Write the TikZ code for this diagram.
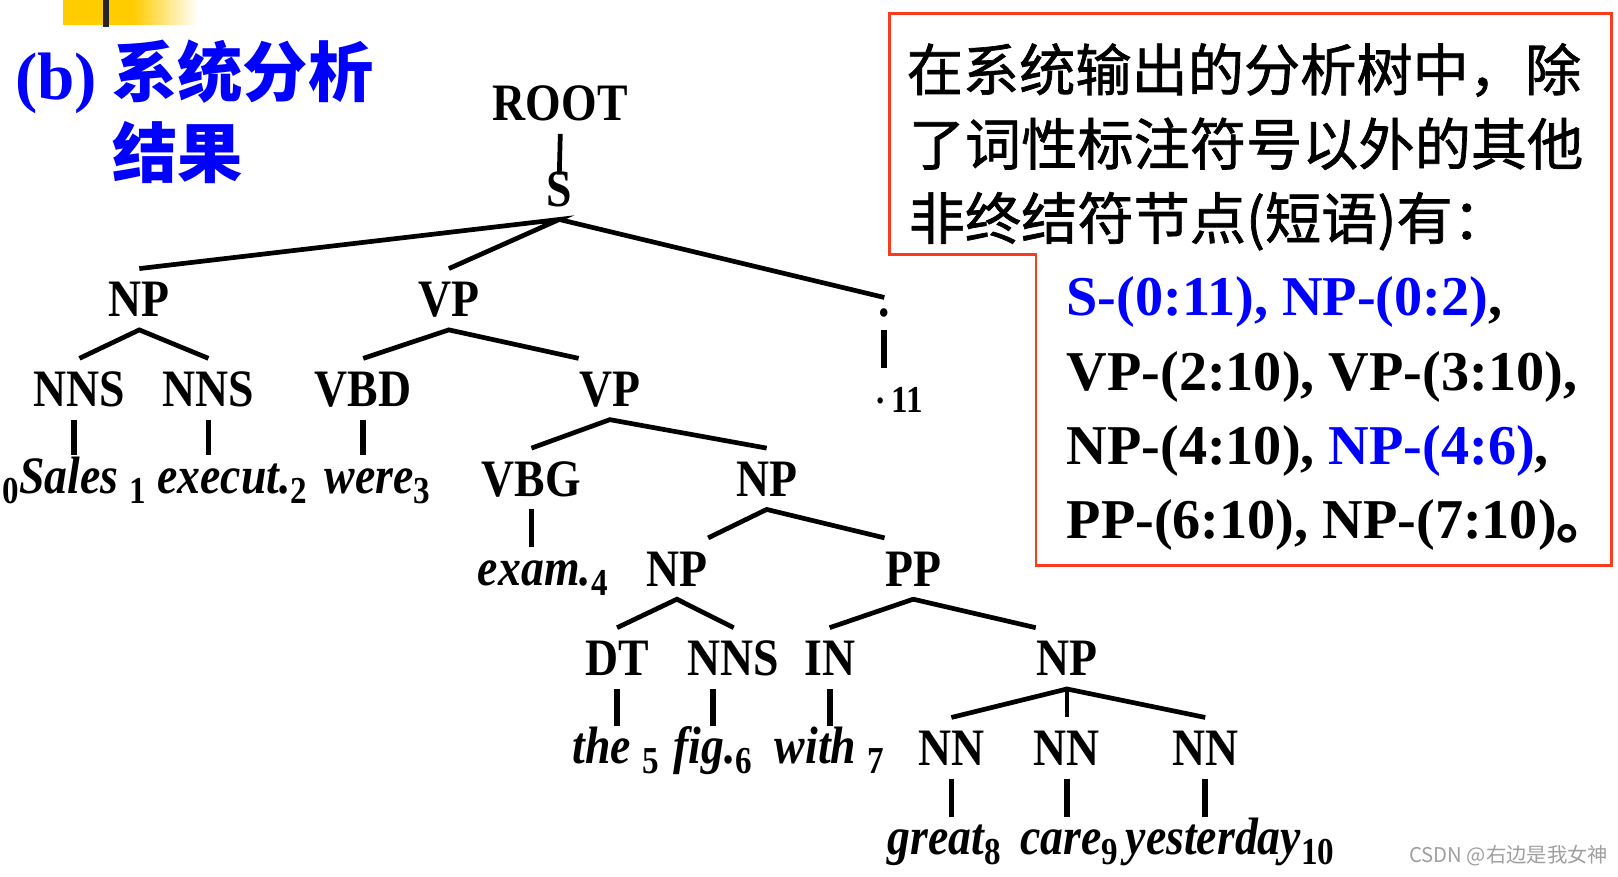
\documentclass[tikz,border=0pt]{standalone}
\usepackage{fontspec}
\setmainfont{Liberation Serif}
\newfontfamily\treefont[FakeStretch=0.87]{Liberation Serif}
\newfontfamily\cjk{Noto Sans CJK SC}
\newfontfamily\cjkheavy[FakeBold=1.2]{Noto Sans CJK SC}
\usepackage{xcolor}
\usepackage{tikz}

\definecolor{spanblue}{RGB}{0,0,255}
\definecolor{boxred}{RGB}{250,60,30}
\definecolor{baryellow}{RGB}{255,204,0}

\newcommand{\ix}[1]{\raisebox{-1mm}{\upshape\fontsize{10.5}{10.5}\selectfont #1}}

\begin{document}
\begin{tikzpicture}[
  x=0.1mm, y=-0.1mm,
  tag/.style={font=\treefont\bfseries\fontsize{14.5}{16}\selectfont, anchor=base,
              inner xsep=0pt, inner ysep=1.2mm, text height=3.4mm, text depth=0pt},
  word/.style={font=\treefont\bfseries\itshape\fontsize{14.5}{16}\selectfont, anchor=base,
               inner xsep=0pt, inner ysep=1.2mm, text height=2.4mm, text depth=0pt},
  note/.style={anchor=base west, inner sep=0pt},
  cjkline/.style={note, font=\cjkheavy\fontsize{15.5}{18}\selectfont},
  spanline/.style={note, font=\bfseries\fontsize{15.5}{18}\selectfont},
  branch/.style={line width=1.3pt},
  stem/.style={line width=1.6pt},
]
\useasboundingbox (0,0) rectangle (1568,849);

% corner bar
\fill[baryellow] (61,0) rectangle (129,24);
\shade[left color=baryellow, right color=white] (129,0) rectangle (192,24);
\fill[black!85] (100,0) rectangle (106,26);

% title
\node[note, font=\bfseries\fontsize{18.5}{20}\selectfont, text=spanblue] (tb) at (14,96) {(b)};
\node[note, font=\cjk\bfseries\fontsize{18}{20}\selectfont, text=spanblue] (tlinea) at (108,94) {系统分析};
\node[note, font=\cjk\bfseries\fontsize{18}{20}\selectfont, text=spanblue] (tlineb) at (108,172) {结果};

% tree
\node[tag] (root)  at (543,117) {ROOT};
\node[tag] (s)     at (542,200) {S};
\node[tag] (np)    at (135,307) {NP};
\node[tag] (vp)    at (435,307) {VP};
\node[tag] (punct) at (857,307) {.};
\node[tag] (nnsa)  at (77,394)  {NNS};
\node[tag] (nnsb)  at (202,394) {NNS};
\node[tag] (vbd)   at (352,394) {VBD};
\node[tag] (vpb)   at (591,394) {VP};
\node[tag] (vbg)   at (515,481) {VBG};
\node[tag] (npb)   at (743,481) {NP};
\node[tag] (npc)   at (656,568) {NP};
\node[tag] (pp)    at (885,568) {PP};
\node[tag] (dt)    at (598,655) {DT};
\node[tag] (nnsc)  at (711,655) {NNS};
\node[tag] (prep)  at (804,655) {IN};
\node[tag] (npd)   at (1034,655) {NP};
\node[tag] (nna)   at (922,742) {NN};
\node[tag] (nnb)   at (1034,742) {NN};
\node[tag] (nnc)   at (1168,742) {NN};

\node[word] (wsales)  at (72,478)  {\ix{0}Sales \ix{1}};
\node[word] (wexecut) at (225,478) {execut.\ix{2}};
\node[word] (wwere)   at (366,478) {were\ix{3}};
\node[word, text height=3.1mm, font=\treefont\bfseries\fontsize{10.5}{11}\selectfont]
  (wdot) at (872,400) {\raisebox{0.9mm}{.}\,11};
\node[word] (wexam)   at (526,567) {exam.\ix{4}};
\node[word] (wthe)    at (597,740) {the \ix{5}};
\node[word] (wfig)    at (691,740) {fig.\ix{6}};
\node[word] (wwith)   at (804,740) {with \ix{7}};
\node[word] (wgreat)  at (915,828) {great\ix{8}};
\node[word] (wcare)   at (1036,828) {care\ix{9}};
\node[word] (wyest)   at (1192,828) {yesterday\ix{10}};

\draw[branch] (root.south) -- ([yshift=-1.6mm]s.north);
\draw[branch] (np.north) -- (s.south) -- (vp.north);
\draw[branch] (s.south) -- ([yshift=-2.8mm]punct.north);
\draw[branch] (nnsa.north) -- (np.south) -- (nnsb.north);
\draw[branch] (vbd.north) -- (vp.south) -- (vpb.north west);
\draw[branch] (vbg.north) -- (vpb.south) -- (npb.north);
\draw[branch] (npc.north east) -- (npb.south) -- (pp.north west);
\draw[branch] (dt.north) -- (npc.south) -- (nnsc.north);
\draw[branch] (prep.north) -- (pp.south) -- (npd.north west);
\draw[branch] (nna.north) -- (npd.south) -- (nnc.north);
\draw[branch] (npd.south) -- (nnb.north);

% tags to words
\draw[stem] (wsales.north |- nnsa.south) -- (wsales.north);
\draw[stem] (nnsb.south) -- (nnsb.south |- wexecut.north);
\draw[stem] (vbd.south) -- (vbd.south |- wwere.north);
\draw[stem] (punct.south) -- (punct.south |- wdot.north);
\draw[stem] (vbg.south) -- (vbg.south |- wexam.north);
\draw[stem] (dt.south) -- (dt.south |- wthe.north);
\draw[stem] (wfig.north |- nnsc.south) -- (wfig.north);
\draw[stem] (prep.south) -- (prep.south |- wwith.north);
\draw[stem] (nna.south) -- (nna.south |- wgreat.north);
\draw[stem] (nnb.south) -- (nnb.south |- wcare.north);
\draw[stem] (nnc.south) -- (nnc.south |- wyest.north);

% note box
\draw[boxred, line width=0.8pt]
  (862,13) -- (1562,13) -- (1562,548) -- (1004,548) -- (1004,247) -- (862,247) -- cycle;
\node[cjkline] (linea) at (878,88)  {在系统输出的分析树中，除};
\node[cjkline] (lineb) at (880,160) {了词性标注符号以外的其他};
\node[cjkline] (linec) at (880,232) {非终结符节点(短语)有：};
\node[spanline] (spana) at (1033,306) {\textcolor{spanblue}{S-(0:11), NP-(0:2)},};
\node[spanline] (spanb) at (1033,378) {VP-(2:10), VP-(3:10),};
\node[spanline] (spanc) at (1033,450) {NP-(4:10), \textcolor{spanblue}{NP-(4:6)},};
\node[spanline] (spand) at (1033,522) {PP-(6:10), NP-(7:10){\cjk 。}};

\node[anchor=base, inner sep=0pt, font=\cjk\fontsize{5.6}{7}\selectfont, text=gray!75]
  (mark) at (1462,836) {CSDN @右边是我女神};
\end{tikzpicture}
\end{document}
